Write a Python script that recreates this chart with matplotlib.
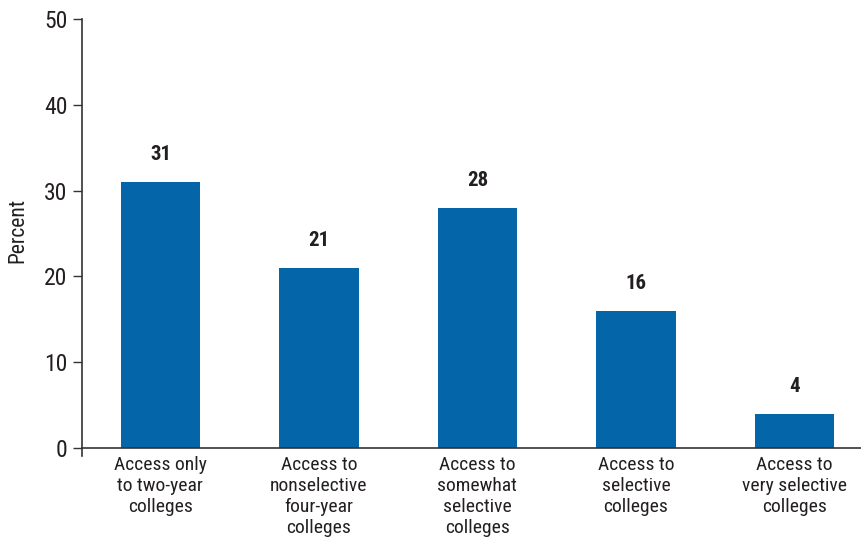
import matplotlib
matplotlib.use("Agg")
import matplotlib.pyplot as plt

categories = ["Access only\nto two-year\ncolleges",
              "Access to\nnonselective\nfour-year\ncolleges",
              "Access to\nsomewhat\nselective\ncolleges",
              "Access to\nselective\ncolleges",
              "Access to\nvery selective\ncolleges"]
values = [31, 21, 28, 16, 4]
yticks = [0, 10, 20, 30, 40, 50]

plt.rcParams['font.family'] = ['Roboto Condensed', 'Archivo Narrow', 'DejaVu Sans']
plt.rcParams['font.stretch'] = 'condensed'
txt = '#231f20'

fig = plt.figure(figsize=(8.61, 5.42), dpi=100)
ax = fig.add_axes([0.0952, 0.1592, 0.9048, 0.8057])

for s in ['top', 'right']:
    ax.spines[s].set_visible(False)
ax.spines['bottom'].set_position(('data', 0))
for s in ['left', 'bottom']:
    ax.spines[s].set_color('#333333')
    ax.spines[s].set_linewidth(1.2)

x = list(range(len(values)))
ax.bar(x, values, width=0.5, color='#0465A9', zorder=2)
for xi, v in zip(x, values):
    ax.annotate(str(v), (xi, v), xytext=(0, 13), textcoords='offset points',
                ha='center', va='bottom', fontsize=15, fontweight='bold', color=txt)

ax.set_xlim(-0.495, 4.42)
ax.set_ylim(-0.9, 50)
ax.set_yticks(yticks)
ax.set_xticks(x)
ax.set_xticklabels(categories, linespacing=1.2)
ax.tick_params(axis='x', length=0, pad=6, labelsize=14, labelcolor=txt)
ax.tick_params(axis='y', length=6.5, width=1.0, pad=4, labelsize=17, labelcolor=txt, color='#333333')

fig.text(17.5/861, 1 - 230/542, 'Percent', rotation=90, ha='center', va='center',
         fontsize=15.5, color=txt)

fig.savefig('out.png', dpi=100)
